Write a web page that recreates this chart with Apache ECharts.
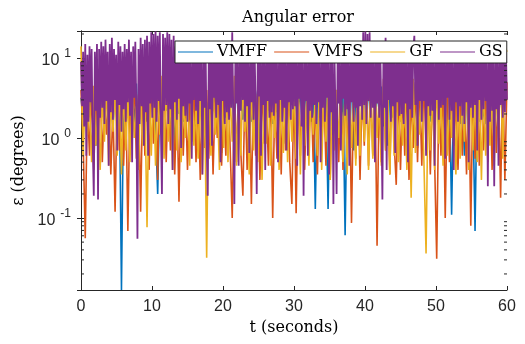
<!DOCTYPE html>
<html>
<head>
<meta charset="utf-8">
<script src="https://cdn.jsdelivr.net/npm/echarts@6.0.0/dist/echarts.min.js"></script>
<style>
  html, body { margin: 0; padding: 0; background: #fff; }
  #main { width: 525px; height: 344px; }
</style>
</head>
<body>
<div id="main"></div>
<script>
// sample steps (seconds)
const dt = 0.3
const dtGs = 0.15
// angular error (degrees), one value per sample
const vmff = [
  3.2, 1.8, 4.4, 1.5, 3.6, 2.2, 2.8, 0.8, 4, 1.9,
  3.6, 1.6, 4.8, 2.4, 3.2, 1.4, 4, 2, 4.4, 0.0126,
  3.6, 1.7, 2.8, 2.3, 4, 1.5, 4.8, 0.9, 3.2, 2.1,
  4.4, 1.6, 3.6, 2.5, 5.2, 1.4, 0.2, 4, 1.8, 4.8,
  2.2, 3.6, 1.5, 4.4, 0.7, 3.2, 2, 4, 1.6, 4.8,
  2.4, 3.2, 1.7, 4.4, 1.4, 3.6, 2.1, 4, 0.8, 2.8,
  1.9, 4.8, 2.3, 3.6, 1.5, 4, 0.65, 3.2, 1.8, 4.4,
  2.2, 3.6, 1.4, 4.8, 2.5, 3.2, 1.7, 4, 2, 4.4,
  1.6, 3.6, 2.4, 4, 0.75, 4.8, 1.9, 3.2, 2.2, 4.4,
  1.5, 3.6, 2.1, 4, 1.8, 4.4, 0.85, 3.2, 2.3, 4.8,
  1.7, 4, 2.4, 3.6, 1.4, 4.8, 2, 3.2, 1.6, 4.4,
  0.13, 4, 1.8, 4.8, 2.2, 3.6, 0.13, 4.4, 1.5, 3.2,
  2.1, 4.4, 1.6, 3.6, 0.061, 4, 2.3, 4.8, 0.7, 3.6,
  1.9, 4.8, 2.4, 4, 1.5, 4.4, 2, 5.2, 1.7, 3.6,
  2.2, 4.4, 1.4, 4, 0.8, 4.8, 1.8, 3.6, 2.5, 4.4,
  1.6, 3.2, 2.1, 4.4, 1.5, 4, 2.3, 4.8, 0.75, 3.6,
  1.9, 4, 2.4, 4.8, 1.6, 3.6, 2, 4.4, 1.4, 4,
  2.2, 4.8, 1.7, 3.6, 0.11, 4.4, 2.1, 4, 1.5, 3.2,
  0.6, 4.4, 1.8, 4, 2.3, 0.069, 4.8, 1.6, 3.6, 2,
  1.5, 4, 2.2, 4.8, 0.85, 4.4, 1.9, 3.6, 2.4, 4.4,
  4
]
const vmfs = [
  4, 0.9, 0.056, 3, 0.6, 4.5, 0.4, 3.5, 0.8, 5,
  0.5, 3, 1.1, 4, 0.35, 2.5, 0.12, 3.5, 0.7, 5.5,
  0.45, 4, 0.069, 3, 0.9, 6, 0.55, 3.5, 0.12, 4.5,
  0.6, 5, 0.4, 6.5, 0.85, 4, 0.3, 9, 1, 7,
  0.5, 4.5, 0.7, 5.5, 0.35, 3.5, 0.16, 5, 0.6, 4,
  0.4, 3, 0.9, 4.5, 0.5, 3.5, 0.3, 6, 0.75, 4,
  0.55, 5, 0.35, 3.5, 1, 4.5, 0.45, 3, 0.6, 5.5,
  0.8, 0.1, 4, 0.5, 5, 0.7, 0.19, 4.5, 0.4, 3.5,
  0.15, 5.5, 0.6, 4, 0.3, 4.5, 0.85, 3, 0.45, 5,
  0.1, 3.5, 0.55, 4.5, 0.35, 6.5, 0.7, 4, 0.5, 0.15,
  5, 0.115, 4, 0.6, 5.5, 0.4, 3.5, 0.9, 4.5, 0.5,
  3, 0.35, 5, 0.7, 4, 0.45, 5.5, 0.3, 4.5, 0.8,
  3.5, 0.5, 6, 0.4, 4, 0.65, 5, 0.087, 4.5, 0.55,
  5.5, 0.3, 4, 0.8, 7, 0.45, 4.5, 0.6, 5, 0.045,
  4, 0.5, 5.5, 0.7, 3.5, 0.35, 8, 0.9, 0.26, 5,
  0.4, 4, 0.6, 5.5, 0.3, 3.5, 0.75, 5, 0.5, 4.5,
  0.45, 6, 0.7, 4, 0.35, 4.5, 0.55, 0.031, 3.5, 0.6,
  5.5, 0.1, 4, 0.5, 5, 0.8, 3, 0.4, 4.5, 0.6,
  3.5, 0.35, 5, 0.08, 4, 0.55, 5.5, 0.45, 4.5, 0.7,
  4, 0.5, 6, 0.4, 4.5, 0.65, 5, 0.18, 7, 0.3,
  5
]
const gf = [
  14, 0.6, 4, 1.1, 3, 0.5, 4.5, 0.8, 2.5, 0.4,
  3.5, 0.9, 5, 0.45, 3, 1.2, 4, 0.6, 5.5, 0.35,
  4.5, 0.7, 3.5, 0.5, 5, 1, 2.5, 0.4, 4, 0.8,
  3, 0.077, 4.5, 0.6, 5.5, 0.45, 4, 1.1, 6, 0.55,
  5, 0.9, 3.5, 0.4, 4.5, 0.7, 5.5, 0.5, 3, 1,
  4, 0.45, 5, 0.8, 2.5, 0.55, 4.5, 0.35, 3.5, 0.032,
  5.5, 0.6, 4, 1.1, 3, 0.4, 5, 0.75, 4.5, 0.5,
  3.5, 0.9, 6, 0.45, 4, 0.6, 5, 1.2, 3, 0.35,
  4.5, 0.7, 3.5, 0.5, 5.5, 0.3, 4, 0.85, 5, 0.45,
  3, 1, 4.5, 0.4, 4, 0.65, 5.5, 0.5, 3.5, 0.9,
  5, 0.55, 4, 0.35, 6, 0.8, 3, 0.45, 4.5, 1.1,
  3.5, 0.6, 5.5, 0.4, 4, 0.9, 5, 0.3, 4.5, 0.7,
  4, 1, 3, 0.5, 5, 0.35, 5.5, 0.75, 3.5, 0.45,
  4.5, 0.6, 6, 0.9, 4, 0.4, 5, 0.55, 5.5, 1,
  3.5, 0.45, 4.5, 0.7, 4, 0.35, 5.5, 0.6, 5, 0.5,
  3, 0.8, 4.5, 0.4, 4, 0.18, 5.5, 0.65, 3.5, 1.1,
  5, 0.5, 0.036, 4, 0.7, 4.5, 0.4, 5.5, 0.85, 3.5,
  0.45, 5, 0.6, 4, 1, 6, 0.35, 4.5, 0.55, 3.5,
  0.9, 5.5, 0.4, 4, 0.7, 5, 0.5, 4.5, 0.3, 6,
  0.6, 4, 0.8, 5, 0.45, 4.5, 1, 9, 0.55, 14,
  12
]
const gs = [
  9, 2.5, 12, 1.4, 15, 0.6, 11, 1.6, 14, 2.8, 13, 0.9, 0.19, 12, 2.2, 15, 0.17, 13, 1.8, 16,
  2.4, 14, 1.5, 17, 2.9, 12, 0.45, 15, 2.1, 18, 1.7, 13, 3, 11, 0.7, 16, 2.6, 14, 1.2, 12,
  2.3, 15, 1.6, 13, 2.8, 17, 1.9, 12, 0.5, 14, 3.2, 16, 2, 0.055, 13, 1.5, 18, 2.5, 15, 0.8,
  17, 2.1, 19, 0.6, 16, 2.7, 21, 1.8, 20, 2.4, 21.5, 1.6, 19, 2.9, 21, 1.3, 0.2, 20, 2.2, 18,
  2.6, 21, 1.5, 20, 2.3, 17, 0.4, 19, 2.8, 14, 1.7, 12, 3.1, 13, 0.75, 13, 2.5, 11, 1.9, 13,
  1.6, 12, 2.7, 13, 0.55, 11, 3, 13, 2.2, 13.5, 1.5, 12, 2.9, 14, 0.35, 10, 2.4, 13, 0.8, 0.19,
  12, 2.3, 14, 0.8, 11, 3.2, 13, 1.8, 13, 2.6, 13.5, 0.5, 16, 2.9, 14, 1.5, 14, 2.1, 13, 1.7,
  13, 2.4, 21, 1.9, 0.15, 14, 2.7, 12, 0.45, 13, 2.2, 11, 3, 13, 1.6, 12, 2.5, 14, 0.65, 10,
  2.8, 13, 1.7, 13, 2.3, 0.2, 12, 3.3, 14, 0.6, 11, 2.6, 13, 0.4, 13.5, 2.9, 12, 1.8, 14, 2.1,
  11, 1.9, 13, 2.7, 10, 0.5, 13, 3, 12, 1.6, 14, 2.4, 11, 0.7, 13, 2.8, 13.5, 1.7, 12, 2.3,
  13, 2.5, 12, 0.45, 14, 3.1, 11, 1.4, 13, 0.19, 13.5, 2.9, 12, 0.6, 13, 2.2, 13, 1.8, 14, 2.6,
  12, 1.5, 14, 2.8, 11, 0.5, 13, 2.4, 13, 1.6, 12, 3.2, 10, 0.35, 14, 2.1, 13, 0.15, 11, 1.9,
  0.2, 12, 2.7, 13, 0.7, 11, 3.1, 13, 1.9, 13.5, 2.3, 12, 0.45, 14, 2.8, 14, 1.6, 13, 2.4, 13,
  0.8, 13, 2.5, 14, 1.7, 21, 2.6, 21.5, 1.5, 20, 2.9, 21, 1.8, 14, 2.4, 12, 0.5, 13, 2.7, 13,
  1.8, 13, 2.2, 0.17, 13, 2.4, 18, 0.4, 14, 3, 11, 1.6, 13, 2.5, 13.5, 0.65, 12, 2.8, 14, 1.9,
  13, 2, 14, 1.5, 13.5, 2.7, 12, 0.5, 13, 2.3, 14, 1.8, 13, 19, 2.6, 14, 0.8, 12, 2.9, 10,
  1.6, 12, 2.9, 11, 0.6, 14, 2.5, 10, 1.9, 13, 2.2, 13, 0.45, 12, 3, 11, 1.7, 14, 2.4, 13,
  2.6, 13.5, 0.55, 12, 3.2, 11, 1.7, 13, 2.2, 13, 0.4, 12, 2.8, 14, 1.6, 11, 2.5, 13, 1.9, 10,
  1.5, 12, 2.8, 14, 0.5, 11, 2.4, 13, 1.8, 13, 2.6, 12, 0.7, 14, 3, 11, 1.7, 13, 2.3, 12,
  2.9, 14, 0.25, 11, 1.6, 13, 2.2, 12, 0.25, 13, 2.3, 12, 0.45, 13, 2.6, 11, 1.8, 13, 2.1, 12,
  3
]
const names = ['VMFF', 'VMFS', 'GF', 'GS']
const colors = ['#0072BD', '#D95319', '#EDB120', '#7E2F8E']
const steps = [dt, dt, dt, dtGs]
const widths = [1.6, 1.6, 1.6, 1.8]
const yMin = 0.0126
const yMax = 21.8
const xTicks = [0, 10, 20, 30, 40, 50, 60]
// minor ticks of the log axis
const minorTicks = [0.02, 0.03, 0.04, 0.05, 0.06, 0.07, 0.08, 0.09,
  0.2, 0.3, 0.4, 0.5, 0.6, 0.7, 0.8, 0.9,
  2, 3, 4, 5, 6, 7, 8, 9, 20]

const axisColor = '#262626'
const serif = 'DejaVu Serif'
const sans = 'Liberation Sans'

function toPairs (arr, step) {
  return arr.map(function (v, i) { return [+(i * step).toFixed(2), v] })
}

var myChart = echarts.init(document.getElementById('main'))

var xBase = {
  type: 'value',
  min: xTicks[0],
  max: xTicks[xTicks.length - 1],
  interval: 10,
  axisLine: { show: true, lineStyle: { color: axisColor, width: 1 } },
  axisTick: { show: true, inside: true, length: 4, lineStyle: { color: axisColor } },
  splitLine: { show: false }
}
var yBase = {
  type: 'log',
  logBase: 10,
  min: yMin,
  max: yMax,
  axisLine: { show: true, lineStyle: { color: axisColor, width: 1 } },
  axisTick: { show: true, inside: true, length: 4, lineStyle: { color: axisColor } },
  splitLine: { show: false },
  minorTick: { show: false },
  minorSplitLine: { show: false }
}

var series = [vmff, vmfs, gf, gs].map(function (arr, k) {
  return {
    name: names[k],
    type: 'line',
    data: toPairs(arr, steps[k]),
    showSymbol: false,
    symbol: 'none',
    sampling: null,
    lineStyle: { color: colors[k], width: widths[k] },
    itemStyle: { color: colors[k] },
    emphasis: { disabled: true },
    animation: false,
    z: 2 + k
  }
})

// minor ticks drawn on both sides of the box
series.push({
  type: 'custom',
  silent: true,
  animation: false,
  z: 10,
  data: minorTicks.map(function (v) { return [0, v] }),
  renderItem: function (params, api) {
    var v = api.value(1)
    var l = api.coord([xTicks[0], v])
    var r = api.coord([xTicks[xTicks.length - 1], v])
    var st = { stroke: axisColor, lineWidth: 1 }
    return {
      type: 'group',
      children: [
        { type: 'line', shape: { x1: l[0], y1: l[1], x2: l[0] + 3, y2: l[1] }, style: st },
        { type: 'line', shape: { x1: r[0], y1: r[1], x2: r[0] - 3, y2: r[1] }, style: st }
      ]
    }
  }
})

var option = {
  animation: false,
  backgroundColor: '#fff',
  title: {
    text: 'Angular error',
    left: 293,
    top: 5,
    textAlign: 'center',
    textStyle: { fontFamily: serif, fontSize: 16, fontWeight: 'normal', color: '#000' }
  },
  legend: {
    data: names,
    left: 175,
    top: 41,
    orient: 'horizontal',
    icon: 'rect',
    itemWidth: 35,
    itemHeight: 1.2,
    itemGap: 7,
    padding: [3, 4, 3, 3],
    borderColor: axisColor,
    borderWidth: 1,
    backgroundColor: '#fff',
    borderRadius: 0,
    selectedMode: false,
    z: 20,
    textStyle: { fontFamily: serif, fontSize: 16, color: '#000', padding: [0, 0, 0, -1] }
  },
  grid: {
    left: 81,
    right: 18,
    top: 31,
    bottom: 54,
    containLabel: false,
    outerBoundsMode: 'none'
  },
  xAxis: [
    Object.assign({}, xBase, {
      position: 'bottom',
      axisLabel: { show: true, margin: 9, fontFamily: sans, fontSize: 16, color: axisColor },
      name: 't (seconds)',
      nameLocation: 'middle',
      nameGap: 29,
      nameTextStyle: { fontFamily: serif, fontSize: 16, color: '#000' }
    }),
    Object.assign({}, xBase, {
      position: 'top',
      axisLabel: { show: false }
    })
  ],
  yAxis: [
    Object.assign({}, yBase, {
      position: 'left',
      axisLabel: {
        show: true,
        margin: 10,
        color: axisColor,
        formatter: function (v) {
          var lg = Math.log10(v)
          var e = Math.round(lg)
          if (Math.abs(lg - e) > 1e-6) return ''
          return '{b|10}{s|' + e + '}'
        },
        rich: {
          b: { fontFamily: sans, fontSize: 16, color: axisColor, padding: [6, 0, 0, 0] },
          s: { fontFamily: sans, fontSize: 12, color: axisColor, padding: [0, 0, 8, 5] }
        }
      },
      name: 'ε (degrees)',
      nameLocation: 'middle',
      nameRotate: 90,
      nameGap: 43,
      nameTextStyle: { fontFamily: serif, fontSize: 16, color: '#000' }
    }),
    Object.assign({}, yBase, {
      position: 'right',
      axisLabel: { show: false }
    })
  ],
  series: series
}

myChart.setOption(option)
</script>
</body>
</html>
